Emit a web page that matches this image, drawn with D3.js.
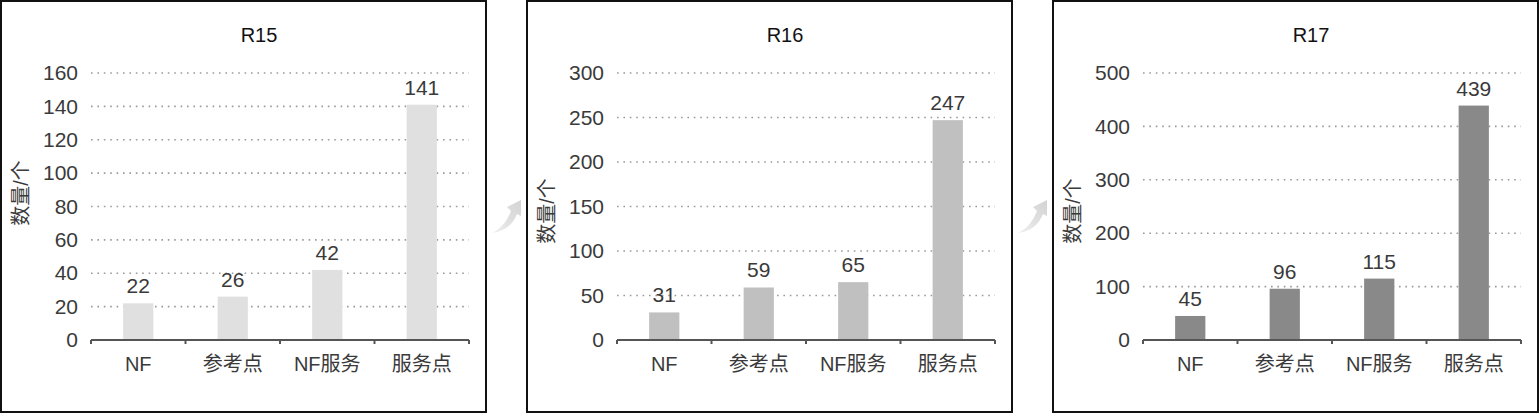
<!DOCTYPE html>
<html>
<head>
<meta charset="utf-8">
<script src="https://cdn.jsdelivr.net/npm/d3@7/dist/d3.min.js"></script>
<style>
  body { margin: 0; background: #fff; }
  svg { display: block; }
  text { font-family: "Liberation Sans", Arial, "Noto Sans CJK SC", sans-serif; }
</style>
</head>
<body>
<script>
// data
var categories = ["NF", "参考点", "NF服务", "服务点"];
var releases = ["R15", "R16", "R17"];
var r15Values = [22, 26, 42, 141];
var r16Values = [31, 59, 65, 247];
var r17Values = [45, 96, 115, 439];
var r15Ticks = [0, 20, 40, 60, 80, 100, 120, 140, 160];
var r16Ticks = [0, 50, 100, 150, 200, 250, 300];
var r17Ticks = [0, 100, 200, 300, 400, 500];
var yTitle = "数量/个";

var panels = [
	{name: releases[0], values: r15Values, ticks: r15Ticks, left: 1, color: "#dfe0df", titleY: 192},
	{name: releases[1], values: r16Values, ticks: r16Ticks, left: 527, color: "#c0c0c0", titleY: 210},
	{name: releases[2], values: r17Values, ticks: r17Ticks, left: 1053, color: "#898989", titleY: 210}
];

// dimensions of each panel
var panelWidth = 485,
	panelHeight = 411,
	plotLeft = 90,
	plotWidth = 378,
	plotTop = 73,
	plotBottom = 340;

var svg = d3.select("body").append("svg")
	.attr("width", 1540)
	.attr("height", 414);

// arrows between the panels
var defs = svg.append("defs");
var grad = defs.append("linearGradient")
	.attr("id", "arrowFade")
	.attr("x1", "0%").attr("y1", "100%")
	.attr("x2", "100%").attr("y2", "0%");
grad.append("stop").attr("offset", "0%").attr("stop-color", "#f0f0f0");
grad.append("stop").attr("offset", "55%").attr("stop-color", "#dedede");
grad.append("stop").attr("offset", "100%").attr("stop-color", "#d4d4d4");

// tail at the origin, tip up and to the right
var arrowPath = "M0,0 Q13,-6 19,-22 L15,-26 L29,-33 L29,-17 L25,-19 Q18,-2 0,0 Z";
[[492, 233], [1018, 233]].forEach(function(p) {
	svg.append("path")
		.attr("d", arrowPath)
		.attr("transform", "translate(" + p[0] + "," + p[1] + ")")
		.style("fill", "url(#arrowFade)");
});

panels.forEach(function(panel) {
	var g = svg.append("g")
		.attr("transform", "translate(" + panel.left + ",1)");

	g.append("rect")
		.attr("x", 0)
		.attr("y", 0)
		.attr("width", panelWidth)
		.attr("height", panelHeight)
		.style("fill", "#fff")
		.style("stroke", "#111")
		.style("stroke-width", 2);

	var maxTick = d3.max(panel.ticks);

	var xScale = d3.scaleBand()
		.domain(categories)
		.range([0, plotWidth])
		.paddingInner(0.68)
		.paddingOuter(0.34);

	var yScale = d3.scaleLinear()
		.domain([0, maxTick])
		.range([plotBottom - 1, plotTop - 1]);

	var plot = g.append("g")
		.attr("transform", "translate(" + plotLeft + ",0)");

	// title
	g.append("text")
		.attr("x", plotLeft + plotWidth / 2 - 21)
		.attr("y", 41)
		.attr("text-anchor", "middle")
		.style("font-size", "20px")
		.style("fill", "#111")
		.text(panel.name);

	// dotted grid lines
	plot.append("g")
		.selectAll("line")
		.data(panel.ticks.filter(function(t) { return t > 0; }))
		.enter().append("line")
		.attr("x1", 0)
		.attr("x2", plotWidth)
		.attr("y1", function(t) { return yScale(t); })
		.attr("y2", function(t) { return yScale(t); })
		.style("stroke", "#9a9a9a")
		.style("stroke-width", 1.6)
		.style("stroke-dasharray", "1.6,4.8");

	// y axis labels
	var yAxis = d3.axisLeft(yScale)
		.tickValues(panel.ticks)
		.tickSize(0)
		.tickPadding(13);
	plot.append("g")
		.call(yAxis)
		.call(function(a) { a.select(".domain").remove(); })
		.selectAll("text")
		.style("font-size", "21px")
		.style("fill", "#3a3a3a")
		.style("font-family", "\"Liberation Sans\", Arial, sans-serif");

	// y title
	g.append("text")
		.attr("transform", "translate(20," + panel.titleY + ") rotate(-90)")
		.attr("text-anchor", "middle")
		.attr("dominant-baseline", "central")
		.style("font-size", "20px")
		.style("fill", "#3a3a3a")
		.text(yTitle);

	// bars
	plot.append("g")
		.selectAll("rect")
		.data(panel.values)
		.enter().append("rect")
		.attr("x", function(d, i) { return xScale(categories[i]); })
		.attr("y", function(d) { return yScale(d); })
		.attr("width", xScale.bandwidth())
		.attr("height", function(d) { return yScale(0) - yScale(d); })
		.style("fill", panel.color);

	// value labels
	plot.append("g")
		.selectAll("text")
		.data(panel.values)
		.enter().append("text")
		.attr("x", function(d, i) { return xScale(categories[i]) + xScale.bandwidth() / 2; })
		.attr("y", function(d) { return yScale(d) - 10; })
		.attr("text-anchor", "middle")
		.style("font-size", "21px")
		.style("fill", "#3a3a3a")
		.text(function(d) { return d; });

	// x axis line with ticks between categories
	var bounds = d3.range(categories.length + 1).map(function(i) { return i * xScale.step(); });
	plot.append("line")
		.attr("x1", 0)
		.attr("x2", plotWidth)
		.attr("y1", plotBottom - 1)
		.attr("y2", plotBottom - 1)
		.style("stroke", "#555")
		.style("stroke-width", 2);
	plot.append("g")
		.selectAll("line")
		.data(bounds)
		.enter().append("line")
		.attr("x1", function(b) { return b; })
		.attr("x2", function(b) { return b; })
		.attr("y1", plotBottom - 1)
		.attr("y2", plotBottom + 3)
		.style("stroke", "#555")
		.style("stroke-width", 2);

	// category labels
	plot.append("g")
		.selectAll("text")
		.data(categories)
		.enter().append("text")
		.attr("x", function(c) { return xScale(c) + xScale.bandwidth() / 2; })
		.attr("y", 370)
		.attr("text-anchor", "middle")
		.style("font-size", "20px")
		.style("fill", "#3a3a3a")
		.text(function(c) { return c; });
});
</script>
</body>
</html>
